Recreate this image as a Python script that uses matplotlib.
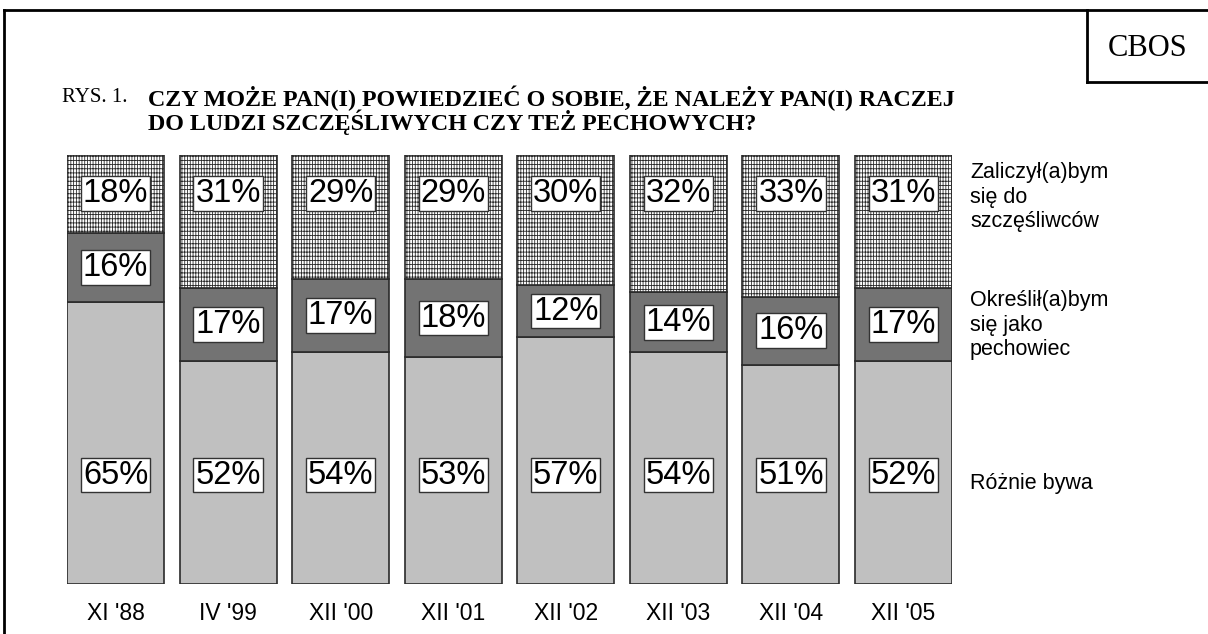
import numpy as np
import matplotlib
matplotlib.use("Agg")
import matplotlib.pyplot as plt
from matplotlib.lines import Line2D

# survey waves and answer shares (%)
waves = ["XI '88", "IV '99", "XII '00", "XII '01", "XII '02", "XII '03", "XII '04", "XII '05"]
happy = [18, 31, 29, 29, 30, 32, 33, 31]
unlucky = [16, 17, 17, 18, 12, 14, 16, 17]
varies = [65, 52, 54, 53, 57, 54, 51, 52]

series_names = ["Zaliczył(a)bym\nsię do\nszczęśliwców",
                "Określił(a)bym\nsię jako\npechowiec",
                "Różnie bywa"]

W, H = 1208, 634
plt.rcParams['hatch.linewidth'] = 0.6
fig = plt.figure(figsize=(W / 100, H / 100), dpi=100)


def fx(px):
    return px / W


def fy(py):
    return 1 - py / H


ax = fig.add_axes([fx(67), fy(584), fx(952 - 67), fy(155) - fy(584)])

x = np.arange(len(waves))
totals = np.array(varies) + np.array(unlucky) + np.array(happy)
v_n = np.array(varies) / totals * 100
u_n = np.array(unlucky) / totals * 100
h_n = np.array(happy) / totals * 100

bw = 0.862
ec = '#2a2a2a'
ax.bar(x, v_n, bw, color='#c0c0c0', edgecolor=ec, linewidth=1.2)
ax.bar(x, u_n, bw, bottom=v_n, color='#737373', edgecolor=ec, linewidth=1.2)
ax.bar(x, h_n, bw, bottom=v_n + u_n, color='white', edgecolor=ec,
       linewidth=1.2, hatch='||||||----')

box = dict(boxstyle='square,pad=0.06', facecolor='white', edgecolor='#333333', linewidth=1)
for i in range(len(waves)):
    kw = dict(ha='center', va='center', fontsize=23.5, family='Liberation Sans', bbox=box)
    ax.text(x[i], 25.4, f"{varies[i]}%", **kw)
    ax.text(x[i], v_n[i] + u_n[i] / 2, f"{unlucky[i]}%", **kw)
    ax.text(x[i], 91.1, f"{happy[i]}%", **kw)

ax.set_xlim(-bw / 2, len(waves) - 1 + bw / 2)
ax.set_ylim(0, 100)
ax.set_xticks(x)
ax.set_xticklabels(waves, fontsize=16.5, family='Liberation Sans')
ax.tick_params(axis='x', length=0, pad=13)
ax.set_yticks([])
for s in ax.spines.values():
    s.set_visible(False)

# series labels on the right
fig.text(fx(970), fy(197), series_names[0], ha='left', va='center',
         fontsize=15.5, family='Liberation Sans', linespacing=1.22)
fig.text(fx(970), fy(325), series_names[1], ha='left', va='center',
         fontsize=15.5, family='Liberation Sans', linespacing=1.22)
fig.text(fx(970), fy(483), series_names[2], ha='left', va='center',
         fontsize=15.5, family='Liberation Sans')

# title
fig.text(fx(62), fy(98), "RYS. 1.", ha='left', va='center',
         fontsize=15, family='Liberation Serif')
fig.text(fx(148), fy(110),
         "CZY MOŻE PAN(I) POWIEDZIEĆ O SOBIE, ŻE NALEŻY PAN(I) RACZEJ\n"
         "DO LUDZI SZCZĘŚLIWYCH CZY TEŻ PECHOWYCH?",
         ha='left', va='center', fontsize=17.3, family='Liberation Serif',
         weight='bold', linespacing=0.92)

# frame and CBOS box
for xs, ys in [((4, 4), (10, H)), ((4, W), (10, 10)),
               ((1087, 1087), (10, 82)), ((1087, W), (82, 82))]:
    fig.add_artist(Line2D([fx(v) for v in xs], [fy(v) for v in ys],
                          color='black', linewidth=2, transform=fig.transFigure))
fig.text(fx(1148), fy(48), "CBOS", ha='center', va='center',
         fontsize=22, family='Liberation Serif')

fig.savefig("out.png", dpi=100)
